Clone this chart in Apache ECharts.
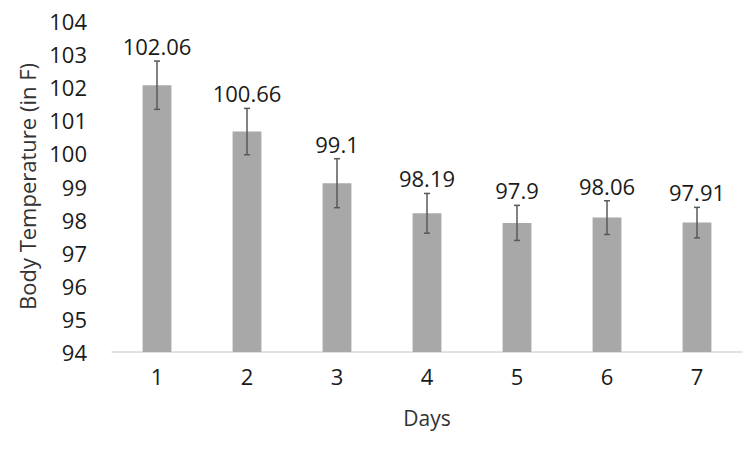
<!DOCTYPE html>
<html>
<head>
<meta charset="utf-8">
<script src="https://cdn.jsdelivr.net/npm/echarts@6/dist/echarts.min.js"></script>
<style>
  html, body { margin: 0; padding: 0; background: #fff; }
  #main { width: 750px; height: 449px; }
</style>
</head>
<body>
<div id="main"></div>
<script>
// data
var days = ['1', '2', '3', '4', '5', '6', '7'];
var temps = [102.06, 100.66, 99.1, 98.19, 97.9, 98.06, 97.91];
var errs = [0.73, 0.7, 0.74, 0.6, 0.53, 0.51, 0.46];

var myChart = echarts.init(document.getElementById('main'), null, { renderer: 'svg' });
var font = '"Open Sans", "Noto Sans", sans-serif';
var txt = '#1a1a1a';

var errData = temps.map(function (v, i) { return [i, v - errs[i], v + errs[i], v]; });

var option = {
  animation: false,
  grid: { left: 112, right: 8, top: 21, bottom: 97 },
  xAxis: {
    type: 'category',
    data: days,
    name: 'Days',
    nameLocation: 'middle',
    nameGap: 55,
    nameTextStyle: { fontFamily: font, fontSize: 21, color: '#333' },
    axisLine: { lineStyle: { color: '#d9d9d9', width: 1.5 } },
    axisTick: { show: false },
    axisLabel: { fontFamily: font, fontSize: 22, color: txt, margin: 13 }
  },
  yAxis: {
    type: 'value',
    min: 94,
    max: 104,
    interval: 1,
    name: 'Body Temperature (in F)',
    nameLocation: 'middle',
    nameGap: 68,
    nameTextStyle: { fontFamily: font, fontSize: 22, color: '#333' },
    splitLine: { show: false },
    axisLine: { show: false },
    axisTick: { show: false },
    axisLabel: { fontFamily: font, fontSize: 22, color: txt, margin: 25 }
  },
  series: [
    {
      type: 'bar',
      data: temps,
      barWidth: '32%',
      itemStyle: { color: '#a8a8a8' }
    },
    {
      type: 'custom',
      data: errData,
      z: 10,
      renderItem: function (params, api) {
        var x = api.value(0);
        var lo = api.coord([x, api.value(1)]);
        var hi = api.coord([x, api.value(2)]);
        var cap = 3;
        var st = { stroke: '#595959', lineWidth: 1.5 };
        return {
          type: 'group',
          children: [
            { type: 'line', shape: { x1: lo[0], y1: lo[1], x2: hi[0], y2: hi[1] }, style: st },
            { type: 'line', shape: { x1: lo[0] - cap, y1: lo[1], x2: lo[0] + cap, y2: lo[1] }, style: st },
            { type: 'line', shape: { x1: hi[0] - cap, y1: hi[1], x2: hi[0] + cap, y2: hi[1] }, style: st },
            {
              type: 'text',
              style: {
                x: hi[0], y: hi[1] - 4,
                text: String(api.value(3)),
                align: 'center', verticalAlign: 'bottom',
                fontFamily: font, fontSize: 22, fill: txt
              }
            }
          ]
        };
      }
    }
  ]
};
myChart.setOption(option);
</script>
</body>
</html>
